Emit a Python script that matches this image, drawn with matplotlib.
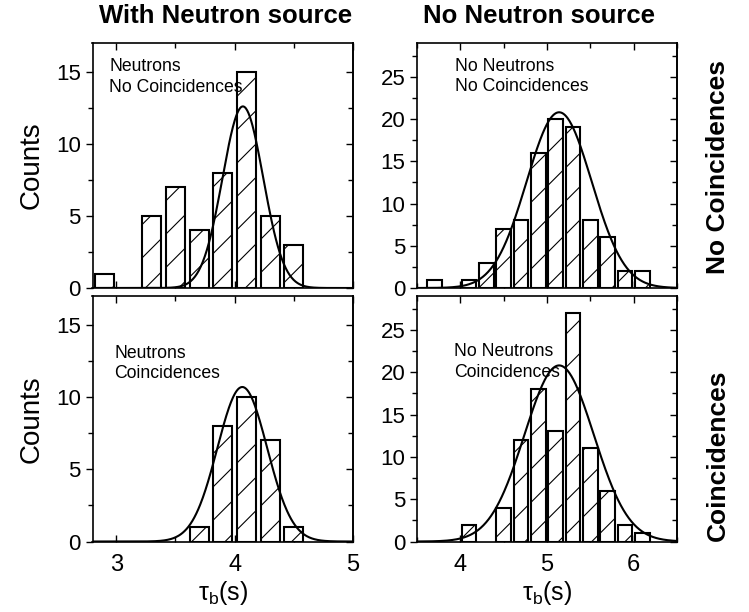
import numpy as np
import matplotlib
matplotlib.use("Agg")
import matplotlib.pyplot as plt
from matplotlib.ticker import MultipleLocator

plt.rcParams['font.family'] = ['Liberation Sans', 'DejaVu Sans']
plt.rcParams['mathtext.fontset'] = 'custom'
plt.rcParams['mathtext.rm'] = 'Liberation Sans'
plt.rcParams['mathtext.it'] = 'Liberation Sans:italic'
plt.rcParams['hatch.linewidth'] = 0.8

# Histogram bin centres (s) and counts for each configuration
n_nc_x = [2.9, 3.3, 3.5, 3.7, 3.9, 4.1, 4.3, 4.5]
n_nc_y = [1, 5, 7, 4, 8, 15, 5, 3]

nn_nc_x = [3.7, 4.1, 4.3, 4.5, 4.7, 4.9, 5.1, 5.3, 5.5, 5.7, 5.9, 6.1]
nn_nc_y = [1, 1, 3, 7, 8, 16, 20, 19, 8, 6, 2, 2]

n_c_x = [3.7, 3.9, 4.1, 4.3, 4.5]
n_c_y = [1, 8, 10, 7, 1]

nn_c_x = [4.1, 4.5, 4.7, 4.9, 5.1, 5.3, 5.5, 5.7, 5.9, 6.1]
nn_c_y = [2, 4, 12, 18, 13, 27, 11, 6, 2, 1]

# Gaussian fit parameters: (amplitude, centre, sigma)
fit_n_nc = (12.6, 4.07, 0.172)
fit_nn_nc = (20.8, 5.14, 0.375)
fit_n_c = (10.7, 4.065, 0.21)
fit_nn_c = (20.8, 5.14, 0.40)

W, H = 749, 612
fig = plt.figure(figsize=(W / 100, H / 100), dpi=100)


def frac_rect(x0, y0, x1, y1):
    return [x0 / W, 1 - y1 / H, (x1 - x0) / W, (y1 - y0) / H]


ax_tl = fig.add_axes(frac_rect(92.5, 43, 353, 288))
ax_bl = fig.add_axes(frac_rect(92.5, 296, 353, 541.5))
ax_tr = fig.add_axes(frac_rect(417, 43, 677, 288))
ax_br = fig.add_axes(frac_rect(417, 296, 677, 541.5))

panels = [
    (ax_tl, n_nc_x, n_nc_y, fit_n_nc, 0.16, (2.8, 5.0), 17, 5, "Neutrons\nNo Coincidences", (0.064, 0.937)),
    (ax_bl, n_c_x, n_c_y, fit_n_c, 0.16, (2.8, 5.0), 17, 5, "Neutrons\nCoincidences", (0.083, 0.802)),
    (ax_tr, nn_nc_x, nn_nc_y, fit_nn_nc, 0.17, (3.5, 6.5), 29, 5, "No Neutrons\nNo Coincidences", (0.146, 0.939)),
    (ax_br, nn_c_x, nn_c_y, fit_nn_c, 0.17, (3.5, 6.5), 29, 5, "No Neutrons\nCoincidences", (0.143, 0.807)),
]

for ax, xs, ys, fit, bw, xlim, ytop, ystep, label, pos in panels:
    ax.bar(xs, ys, width=bw, facecolor='white', edgecolor='black',
           linewidth=1.5, hatch='/', zorder=2)
    amp, mu, sig = fit
    xx = np.linspace(xlim[0], xlim[1], 400)
    ax.plot(xx, amp * np.exp(-(xx - mu) ** 2 / (2 * sig ** 2)),
            color='black', lw=1.5, zorder=3)
    ax.set_xlim(*xlim)
    ax.set_ylim(0, ytop)
    ax.xaxis.set_major_locator(MultipleLocator(1))
    ax.xaxis.set_minor_locator(MultipleLocator(0.5))
    ax.yaxis.set_major_locator(MultipleLocator(ystep))
    ax.yaxis.set_minor_locator(MultipleLocator(ystep / 2))
    ax.tick_params(axis='x', which='both', direction='in', top=True, bottom=True, pad=9)
    ax.tick_params(axis='y', which='both', direction='out', right=False)
    ax.tick_params(which='major', length=5, width=1.0, labelsize=16)
    ax.tick_params(axis='x', labelsize=17)
    ax.tick_params(which='minor', length=3.5, width=1.0)
    sec = ax.secondary_yaxis('right')
    sec.yaxis.set_major_locator(MultipleLocator(ystep))
    sec.yaxis.set_minor_locator(MultipleLocator(ystep / 2))
    sec.tick_params(which='both', direction='in', labelright=False)
    sec.tick_params(which='major', length=5, width=1.0)
    sec.tick_params(which='minor', length=3.5, width=1.0)
    sec.spines['right'].set_linewidth(1.2)
    for sp in ax.spines.values():
        sp.set_linewidth(1.2)
    ax.text(pos[0], pos[1], label, transform=ax.transAxes, ha='left', va='top',
            fontsize=12.7, linespacing=1.25, zorder=4)

for ax in (ax_tl, ax_tr):
    ax.tick_params(axis='x', labelbottom=False)
for ax in (ax_bl, ax_br):
    ax.set_xlabel('τ$_\\mathregular{b}$(s)', fontsize=18, labelpad=2)
for ax in (ax_tl, ax_bl):
    ax.set_ylabel('Counts', fontsize=20, labelpad=8)

fig.text(225.5 / W, 1 - 16 / H, 'With Neutron source', ha='center', va='center',
         fontsize=18.5, fontweight='bold')
fig.text(539 / W, 1 - 16 / H, 'No Neutron source', ha='center', va='center',
         fontsize=18.5, fontweight='bold')
fig.text(718 / W, 1 - 167 / H, 'No Coincidences', ha='center', va='center',
         rotation=90, fontsize=19, fontweight='bold')
fig.text(718 / W, 1 - 455 / H, 'Coincidences', ha='center', va='center',
         rotation=90, fontsize=19, fontweight='bold')

fig.savefig('out.png', dpi=100)
